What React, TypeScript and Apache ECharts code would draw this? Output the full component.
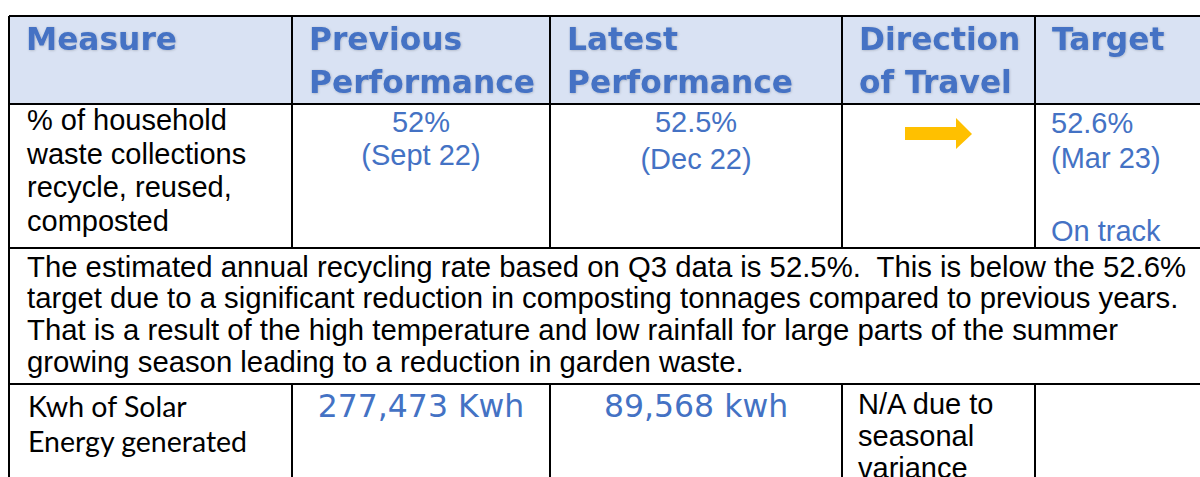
import React, { useEffect, useRef } from "react";
import * as echarts from "echarts";

// ---- Table content ----
const HEADERS: string[][] = [
  ["Measure"],
  ["Previous", "Performance"],
  ["Latest", "Performance"],
  ["Direction", "of Travel"],
  ["Target"],
];
const MEASURE_1 = ["% of household", "waste collections", "recycle, reused,", "composted"];
const PREVIOUS_1 = ["52%", "(Sept 22)"];
const LATEST_1 = ["52.5%", "(Dec 22)"];
const TARGET_1 = ["52.6%", "(Mar 23)", "", "On track"];
const COMMENTARY = [
  "The estimated annual recycling rate based on Q3 data is 52.5%.  This is below the 52.6%",
  "target due to a significant reduction in composting tonnages compared to previous years.",
  "That is a result of the high temperature and low rainfall for large parts of the summer",
  "growing season leading to a reduction in garden waste.",
];
const MEASURE_2 = ["Kwh of Solar", "Energy generated"];
const PREVIOUS_2 = "277,473 Kwh";
const LATEST_2 = "89,568 kwh";
const DIRECTION_2 = ["N/A due to", "seasonal", "variance"];

// ---- Layout ----
const COLS = [9, 292, 550, 842, 1035, 1215];
const ROWS = [16, 104, 248, 384, 500];
const BLUE = "#4472C4";
const HEADER_BG = "#D9E2F3";
const ARROW = "#FFC000";

const ARIAL = "'Liberation Sans', Arial, sans-serif";
const HEAD_FONT = "'DejaVu Sans', Verdana, sans-serif";
const CAL = "Lato, 'Open Sans', sans-serif";

function txt(
  s: string,
  x: number,
  baseline: number,
  size: number,
  family: string,
  color: string,
  align: string = "left",
  weight: string = "normal",
  central = 0.347,
  extra: any = {}
) {
  return {
    type: "text",
    x,
    y: baseline - central * size,
    silent: true,
    style: {
      text: s,
      fontSize: size,
      fontFamily: family,
      fontWeight: weight,
      fill: color,
      align,
      verticalAlign: "middle",
      ...extra,
    },
  };
}

function ln(x1: number, y1: number, x2: number, y2: number, w = 2) {
  return {
    type: "line",
    silent: true,
    shape: { x1, y1, x2, y2 },
    style: { stroke: "#000", lineWidth: w },
  };
}

export default function App() {
  const ref = useRef<HTMLDivElement>(null);
  useEffect(() => {
    if (!ref.current) return;
    const chart = echarts.init(ref.current, undefined, { renderer: "svg" });
    const els: any[] = [];

    // header background
    els.push({
      type: "rect",
      silent: true,
      shape: { x: COLS[0], y: ROWS[0], width: COLS[5] - COLS[0], height: ROWS[1] - ROWS[0] },
      style: { fill: HEADER_BG },
    });

    // header texts
    const headBase = [50, 93];
    HEADERS.forEach((lines, i) => {
      lines.forEach((l, j) => {
        els.push(
          txt(l, COLS[i] + 17, headBase[j], 31.3, HEAD_FONT, BLUE, "left", "bold", 0.346, {
            textShadowColor: "rgba(0,0,0,0.22)",
            textShadowBlur: 2,
            textShadowOffsetX: 0.5,
            textShadowOffsetY: 0.5,
          })
        );
      });
    });

    // row 1
    const m1Base = [130, 164, 197, 231];
    MEASURE_1.forEach((l, j) => els.push(txt(l, 27, m1Base[j], 29, ARIAL, "#000")));
    const c1 = (COLS[1] + COLS[2]) / 2;
    const c2 = (COLS[2] + COLS[3]) / 2;
    els.push(txt(PREVIOUS_1[0], c1, 132, 29, ARIAL, BLUE, "center"));
    els.push(txt(PREVIOUS_1[1], c1, 165, 29, ARIAL, BLUE, "center"));
    els.push(txt(LATEST_1[0], c2, 132, 29, ARIAL, BLUE, "center"));
    els.push(txt(LATEST_1[1], c2, 169, 29, ARIAL, BLUE, "center"));
    const tBase = [133, 168, 0, 241];
    TARGET_1.forEach((l, j) => {
      if (l) els.push(txt(l, 1051, tBase[j], 29, ARIAL, BLUE));
    });
    // arrow
    els.push({
      type: "polygon",
      silent: true,
      shape: {
        points: [
          [905, 127],
          [956, 127],
          [956, 118],
          [972, 134],
          [956, 149],
          [956, 140],
          [905, 140],
        ],
      },
      style: { fill: ARROW },
    });

    // row 2 commentary
    const cBase = [277, 308, 340, 372];
    COMMENTARY.forEach((l, j) => els.push(txt(l, 27, cBase[j], 29.3, ARIAL, "#000")));

    // row 3
    const m2Base = [417, 452];
    MEASURE_2.forEach((l, j) => els.push(txt(l, 28, m2Base[j], 28.5, CAL, "#000", "left", "normal", 0.387)));
    els.push(txt(PREVIOUS_2, c1, 417, 31.5, HEAD_FONT, BLUE, "center", "normal", 0.346));
    els.push(txt(LATEST_2, c2, 417, 31.5, HEAD_FONT, BLUE, "center", "normal", 0.346));
    const dBase = [414, 446, 478];
    DIRECTION_2.forEach((l, j) => els.push(txt(l, 858, dBase[j], 29, ARIAL, "#000")));

    // borders
    ROWS.slice(0, 4).forEach((y) => els.push(ln(COLS[0], y, COLS[5], y)));
    els.push(ln(COLS[0], ROWS[0], COLS[0], ROWS[4]));
    [1, 2, 3, 4].forEach((i) => {
      els.push(ln(COLS[i], ROWS[0], COLS[i], ROWS[2]));
      els.push(ln(COLS[i], ROWS[3], COLS[i], ROWS[4]));
    });

    chart.setOption({
      animation: false,
      backgroundColor: "#ffffff",
      graphic: { elements: els },
    });
    return () => chart.dispose();
  }, []);
  return (
    <div
      ref={ref}
      style={{ position: "absolute", left: 0, top: 0, width: 1200, height: 477 }}
    />
  );
}
